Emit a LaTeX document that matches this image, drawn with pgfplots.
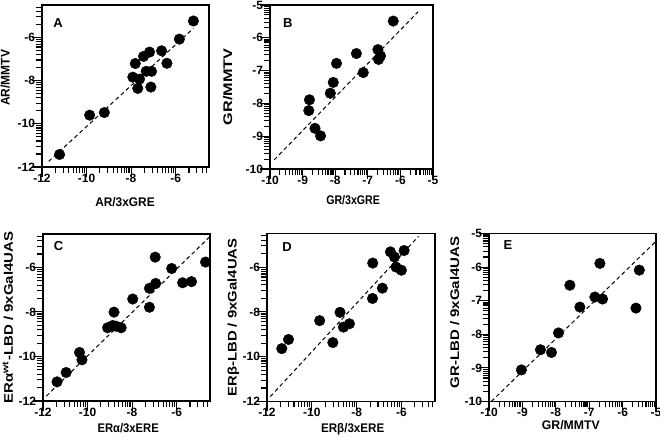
\documentclass[border=0pt]{standalone}
\usepackage{fontspec}
\setmainfont{Liberation Sans}
\usepackage{pgfplots}
\pgfplotsset{compat=1.18}
\tikzset{letter/.style={font=\bfseries\fontsize{13}{13}\selectfont}}
\newcommand{\sx}[2]{\scalebox{#1}[1]{#2}}
\pgfplotsset{
  myax/.style={
    scale only axis,
    axis line style={line width=1.3pt},
    tick align=outside,
    tick pos=left,
    major tick length=10pt,
    every major tick/.append style={black,line width=1.1pt},
    tick label style={font=\bfseries\fontsize{12}{12}\selectfont},
    xticklabel style={yshift=6.5pt},
    yticklabel style={xshift=6.5pt},
    label style={font=\bfseries\fontsize{12.5}{13}\selectfont},
    /pgf/number format/assume math mode=true,
    extra x tick labels={}, extra y tick labels={},
    every extra x tick/.append style={major tick length=6pt, line width=0.9pt},
    every extra y tick/.append style={major tick length=6pt, line width=0.9pt},
    anchor=south west,
  },
  twelve/.style={
    xmin=-12, xmax=-4.5, ymin=-12, ymax=-4.5,
    xtick={-12,-10,-8,-6}, ytick={-12,-10,-8,-6},
    extra x ticks={-11.398,-11.046,-10.796,-10.602,-10.444,-10.310,-10.194,-10.092,-9.398,-9.046,-8.796,-8.602,-8.444,-8.310,-8.194,-8.092,-7.398,-7.046,-6.796,-6.602,-6.444,-6.310,-6.194,-6.092,-5.398,-5.046,-4.796,-4.602},
    extra y ticks={-11.398,-11.046,-10.796,-10.602,-10.444,-10.310,-10.194,-10.092,-9.398,-9.046,-8.796,-8.602,-8.444,-8.310,-8.194,-8.092,-7.398,-7.046,-6.796,-6.602,-6.444,-6.310,-6.194,-6.092,-5.398,-5.046,-4.796,-4.602},
  },
  ten/.style={
    xmin=-10, xmax=-5, ymin=-10, ymax=-5,
    xtick={-10,-9,-8,-7,-6,-5}, ytick={-10,-9,-8,-7,-6,-5},
    extra x ticks={-9.699,-9.523,-9.398,-9.301,-9.222,-9.155,-9.097,-9.046,-8.699,-8.523,-8.398,-8.301,-8.222,-8.155,-8.097,-8.046,-7.699,-7.523,-7.398,-7.301,-7.222,-7.155,-7.097,-7.046,-6.699,-6.523,-6.398,-6.301,-6.222,-6.155,-6.097,-6.046,-5.699,-5.523,-5.398,-5.301,-5.222,-5.155,-5.097,-5.046},
    extra y ticks={-9.699,-9.523,-9.398,-9.301,-9.222,-9.155,-9.097,-9.046,-8.699,-8.523,-8.398,-8.301,-8.222,-8.155,-8.097,-8.046,-7.699,-7.523,-7.398,-7.301,-7.222,-7.155,-7.097,-7.046,-6.699,-6.523,-6.398,-6.301,-6.222,-6.155,-6.097,-6.046,-5.699,-5.523,-5.398,-5.301,-5.222,-5.155,-5.097,-5.046},
  },
  pts/.style={only marks, mark=*, mark size=5.3pt, black, mark options={fill=black}},
  fit/.style={black, line width=1pt, dash pattern=on 4pt off 3pt},
}
\begin{document}
\begin{tikzpicture}[x=1pt,y=1pt]
\useasboundingbox (0,0) rectangle (660,443);

% A
\begin{axis}[myax, twelve, at={(42pt,276pt)}, width=167pt, height=162pt,
  xlabel={\sx{0.95}{AR/3xGRE}}, ylabel={\sx{0.96}{AR/MMTV}},
  x label style={at={(axis description cs:0.497,-0.214)}, anchor=center},
  y label style={at={(axis description cs:-0.22,0.55)}, anchor=center}]
\addplot[fit] coordinates {(-11.70,-11.74) (-5.20,-5.58)};
\addplot[pts] coordinates {
(-11.21,-11.42) (-9.86,-9.60) (-9.20,-9.48) (-7.92,-7.84) (-7.81,-7.21)
(-7.62,-7.93) (-7.70,-8.36) (-7.44,-6.88) (-7.32,-7.57) (-7.17,-6.68)
(-7.08,-7.57) (-7.11,-8.30) (-6.63,-6.62) (-6.39,-7.20) (-5.83,-6.08)
(-5.20,-5.24)};
\node[letter] at (rel axis cs:0.096,0.89) {A};
\end{axis}

% B
\begin{axis}[myax, ten, at={(270pt,274pt)}, width=163pt, height=164pt,
  xlabel={\sx{0.85}{GR/3xGRE}}, ylabel={\sx{1.3}{GR/MMTV}},
  x label style={at={(axis description cs:0.51,-0.19)}, anchor=center},
  y label style={at={(axis description cs:-0.26,0.5)}, anchor=center}]
\addplot[fit] coordinates {(-9.87,-9.72) (-5.46,-5.21)};
\addplot[pts] coordinates {
(-8.81,-8.22) (-8.79,-7.89) (-8.62,-8.76) (-8.45,-8.99) (-8.15,-7.69)
(-8.06,-7.36) (-7.96,-6.78) (-7.35,-6.48) (-7.14,-7.06) (-6.69,-6.36)
(-6.61,-6.55) (-6.67,-6.66) (-6.22,-5.49)};
\node[letter] at (rel axis cs:0.11,0.89) {B};
\end{axis}

% C
\begin{axis}[myax, twelve, at={(43pt,42pt)}, width=167pt, height=167pt,
  xlabel={\sx{0.9}{ERα/3xERE}}, ylabel={\sx{1.2}{ERα\textsuperscript{wt}-LBD / 9xGal4UAS}},
  x label style={at={(axis description cs:0.51,-0.165)}, anchor=center},
  y label style={at={(axis description cs:-0.21,0.5)}, anchor=center}]
\addplot[fit] coordinates {(-11.85,-11.78) (-4.54,-4.65)};
\addplot[pts] coordinates {
(-11.37,-11.14) (-10.96,-10.72) (-10.36,-9.82) (-10.25,-10.15) (-9.10,-8.71)
(-8.87,-8.61) (-8.81,-8.01) (-8.72,-8.64) (-8.49,-8.71) (-7.97,-7.42)
(-7.22,-7.79) (-7.22,-6.94) (-6.94,-6.72) (-6.96,-5.54) (-6.22,-6.05)
(-5.73,-6.69) (-5.33,-6.64) (-4.70,-5.76)};
\node[letter] at (rel axis cs:0.093,0.93) {C};
\end{axis}

% D
\begin{axis}[myax, twelve, at={(267pt,41.5pt)}, width=168pt, height=168pt,
  xlabel={\sx{0.93}{ERβ/3xERE}}, ylabel={\sx{1.19}{ERβ-LBD / 9xGal4UAS}},
  x label style={at={(axis description cs:0.51,-0.165)}, anchor=center},
  y label style={at={(axis description cs:-0.2,0.5)}, anchor=center}]
\addplot[fit] coordinates {(-11.85,-11.78) (-5.24,-4.63)};
\addplot[pts] coordinates {
(-11.34,-9.64) (-11.04,-9.23) (-9.65,-8.39) (-9.06,-9.37) (-8.74,-8.02)
(-8.59,-8.68) (-8.32,-8.53) (-7.29,-7.40) (-7.28,-5.82) (-6.85,-6.94)
(-6.49,-5.32) (-6.31,-5.55) (-6.24,-6.00) (-6.00,-6.14) (-5.88,-5.26)};
\node[letter] at (rel axis cs:0.12,0.92) {D};
\end{axis}

% E
\begin{axis}[myax, ten, at={(489pt,41.5pt)}, width=167pt, height=168pt,
  xlabel={\sx{0.98}{GR/MMTV}}, ylabel={\sx{1.2}{GR-LBD / 9xGal4UAS}},
  x label style={at={(axis description cs:0.49,-0.14)}, anchor=center},
  y label style={at={(axis description cs:-0.205,0.53)}, anchor=center}]
\addplot[fit] coordinates {(-9.93,-10) (-5.0,-5.23)};
\addplot[pts] coordinates {
(-9.03,-9.06) (-8.46,-8.46) (-8.13,-8.54) (-7.92,-7.96) (-7.58,-6.54)
(-7.28,-7.19) (-6.83,-6.89) (-6.68,-5.89) (-6.60,-6.95) (-5.60,-7.22)
(-5.50,-6.09)};
\node[letter] at (rel axis cs:0.114,0.93) {E};
\end{axis}
\end{tikzpicture}
\end{document}
